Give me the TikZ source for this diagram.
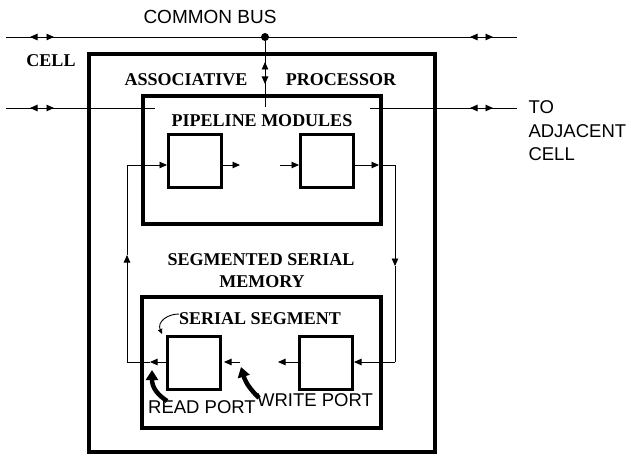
\documentclass[tikz,border=0pt]{standalone}
\usepackage{fontspec}
\setmainfont{Liberation Sans}
\newfontfamily\lblserif{Liberation Serif}
\usetikzlibrary{arrows.meta}
\begin{document}
\begin{tikzpicture}[x=1pt,y=-1pt,
  thinline/.style={line width=0.9pt},
  heavybox/.style={draw,line width=3.4pt,inner sep=0pt},
  modbox/.style={draw,line width=3pt,inner sep=0pt,minimum width=53pt,minimum height=53pt},
  tip/.style={thinline,-{Triangle[length=7.5pt,width=6.5pt]}},
  twotip/.style={thinline,{Triangle[length=7.5pt,width=6.5pt]}-{Triangle[length=7.5pt,width=6.5pt]}},
  sanslbl/.style={font=\fontsize{18.5}{23.5}\selectfont},
  boldlbl/.style={font=\lblserif\bfseries\fontsize{18}{22}\selectfont},
  portarrow/.style={line width=4.5pt,-{Triangle[length=10pt,width=12pt]}}
]
\useasboundingbox (0,0) rectangle (631,468);

% boxes
\node[heavybox,minimum width=346pt,minimum height=398pt] (cell) at (262,253) {};
\node[heavybox,minimum width=238pt,minimum height=128pt] (pipe) at (262,160) {};
\node[heavybox,minimum width=239pt,minimum height=131pt] (mem) at (261.5,362.5) {};
\node[modbox] (pl) at (195,161) {};
\node[modbox] (pr) at (327,161) {};
\node[modbox] (ml) at (194,363) {};
\node[modbox] (mr) at (326,363) {};

% bus
\coordinate (busL) at (6,37);
\coordinate (busR) at (517,37);
\node[circle,fill,inner sep=0pt,minimum size=8pt] (junc) at (265,37) {};
\draw[thinline] (busL) -- (busR);
\draw[twotip] (30,37) -- (54,37);
\draw[twotip] (470,37) -- (493,37);
\coordinate (vbEnd) at (265,107);
\draw[thinline] (junc) -- (vbEnd);
\draw[twotip] (265,62) -- (265,84);

% adjacent cell line
\coordinate (adjL1) at (6,108);
\coordinate (adjL2) at (155,108);
\coordinate (adjR1) at (370,108);
\coordinate (adjR2) at (517,108);
\draw[thinline] (adjL1) -- (adjL2);
\draw[thinline] (adjR1) -- (adjR2);
\draw[twotip] (30,108) -- (54,108);
\draw[twotip] (470,108) -- (493,108);

% loop
\coordinate (row1) at (0,165);
\coordinate (row2) at (0,362);
\coordinate (loopL1) at (127,165);
\coordinate (loopR1) at (395,165);
\coordinate (loopR2) at (395,362);
\coordinate (loopL2) at (127,362);
\draw[tip] (loopL1) -- (pl.west |- row1);
\draw[tip] (pl.east |- row1) -- (240,165);
\draw[tip] (280,165) -- (pr.west |- row1);
\draw[tip] (pr.east |- row1) -- (379,165);
\draw[thinline] (379,165) -- (loopR1);
\draw[tip] (loopR1) -- (395,266);
\draw[thinline] (395,266) -- (loopR2);
\draw[tip] (loopR2) -- (mr.east |- row2);
\draw[tip] (mr.west |- row2) -- (278,362);
\draw[tip] (240,362) -- (224,362);
\draw[tip] (ml.west |- row2) -- (150,362);
\draw[thinline] (150,362) -- (loopL2);
\draw[tip] (loopL2) -- (127,255);
\draw[thinline] (127,255) -- (loopL1);

% labels
\node[sanslbl,font=\fontsize{19}{23}\selectfont] at (210,17) {COMMON BUS};
\node[boldlbl] at (51,61) {CELL};
\node[boldlbl] at (186,80) {ASSOCIATIVE};
\node[boldlbl] at (341,80) {PROCESSOR};
\node[boldlbl] at (262,121) {PIPELINE MODULES};
\node[boldlbl] at (261,260) {SEGMENTED SERIAL};
\node[boldlbl] at (262,282) {MEMORY};
\node[boldlbl] (segl) at (260,319) {SERIAL SEGMENT};
\node[sanslbl] (readl) at (202,407) {READ PORT};
\node[sanslbl] (writel) at (315,400) {WRITE PORT};
\node[sanslbl,align=left,anchor=west] (adjl) at (525,131) {TO\\ADJACENT\\CELL};

% pointer arrows
\draw[thinline,-{Triangle[length=5pt,width=4.5pt]}] (179,314) .. controls (167,314) and (157,322) .. (162,334);
\draw[portarrow] (167,401) .. controls (158,395) and (152,388) .. (152,370);
\draw[portarrow] (259,398) .. controls (252,391) and (246,384) .. (241,367);
\end{tikzpicture}
\end{document}
